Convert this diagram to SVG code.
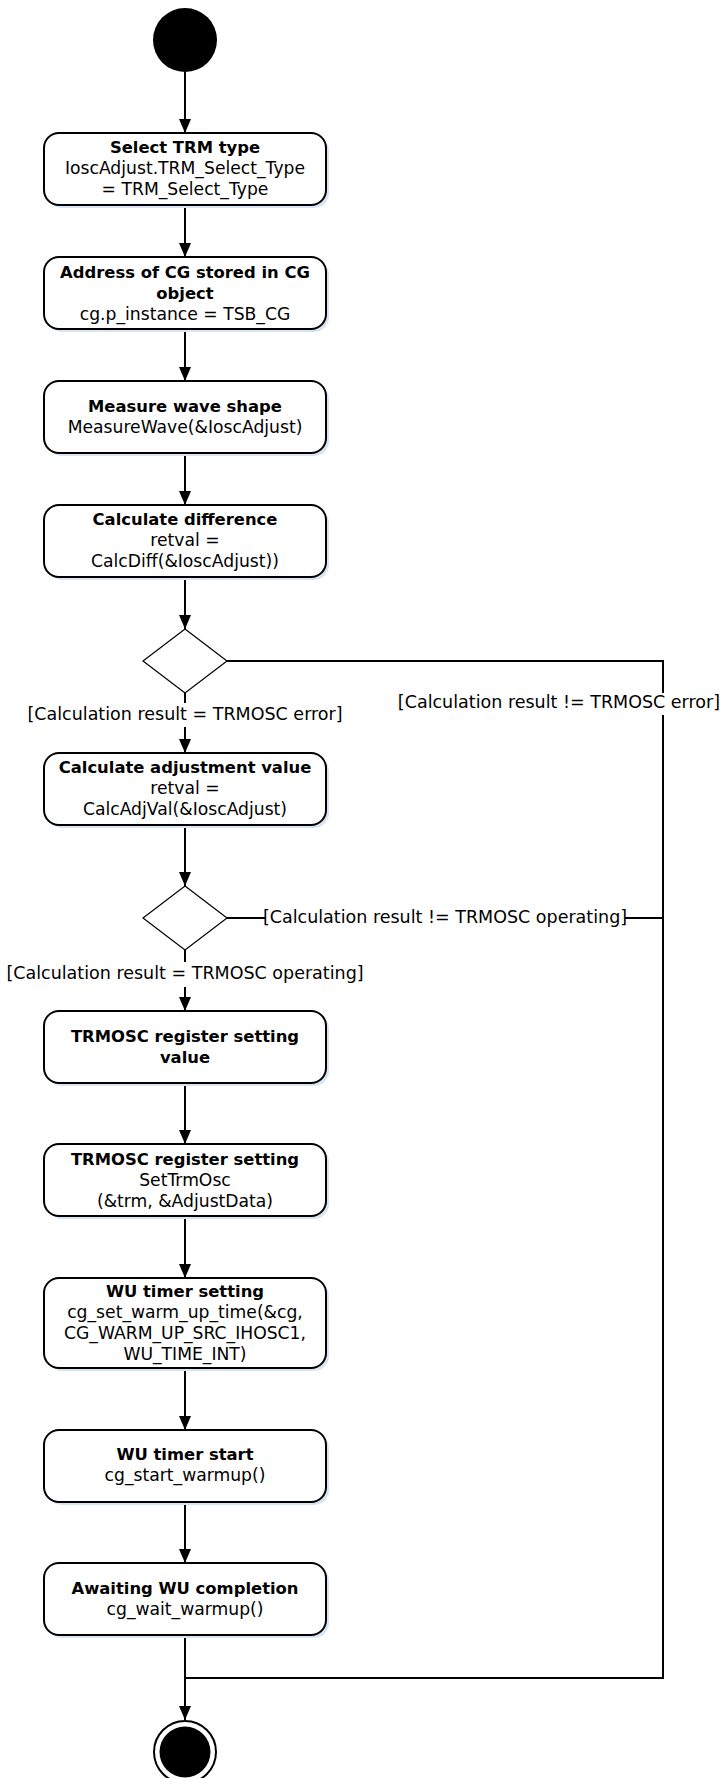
<svg xmlns="http://www.w3.org/2000/svg" width="721" height="1778" viewBox="0 0 721 1778">
<defs>
<marker id="arr" markerUnits="userSpaceOnUse" markerWidth="14" markerHeight="12" refX="14" refY="6" orient="auto">
<path d="M0,0 L14,6 L0,12 Z" fill="#000"/>
</marker>
<style>
.box{fill:#fff;stroke:#000;stroke-width:2}
.sh{fill:#d6e4f4;stroke:none}
.dia{fill:#fff;stroke:#000;stroke-width:1.2}
.ln{fill:none;stroke:#000;stroke-width:2}
.b{font-family:"DejaVu Sans",Verdana,sans-serif;font-weight:bold;font-size:16.4px;text-anchor:middle;fill:#000}
.n{font-family:"DejaVu Sans",Verdana,sans-serif;font-size:17.2px;text-anchor:middle;fill:#000}
.lbl{font-family:"DejaVu Sans",Verdana,sans-serif;font-size:17.5px;fill:#000}
.bg{fill:#fff}
</style>
</defs>
<rect width="721" height="1778" fill="#fff"/>

<g id="connectors">
<line class="ln" x1="185" y1="72" x2="185" y2="133" marker-end="url(#arr)"/>
<line class="ln" x1="185" y1="205" x2="185" y2="257" marker-end="url(#arr)"/>
<line class="ln" x1="185" y1="329" x2="185" y2="381" marker-end="url(#arr)"/>
<line class="ln" x1="185" y1="453" x2="185" y2="505" marker-end="url(#arr)"/>
<line class="ln" x1="185" y1="577" x2="185" y2="629" marker-end="url(#arr)"/>
<line class="ln" x1="185" y1="693" x2="185" y2="753" marker-end="url(#arr)"/>
<polyline class="ln" points="227,661 663,661 663,1678 185,1678"/>
<line class="ln" x1="185" y1="826" x2="185" y2="886" marker-end="url(#arr)"/>
<line class="ln" x1="227" y1="918" x2="663" y2="918"/>
<line class="ln" x1="185" y1="950" x2="185" y2="1011" marker-end="url(#arr)"/>
<line class="ln" x1="185" y1="1083" x2="185" y2="1144" marker-end="url(#arr)"/>
<line class="ln" x1="185" y1="1217" x2="185" y2="1278" marker-end="url(#arr)"/>
<line class="ln" x1="185" y1="1368" x2="185" y2="1430" marker-end="url(#arr)"/>
<line class="ln" x1="185" y1="1502" x2="185" y2="1563" marker-end="url(#arr)"/>
<line class="ln" x1="185" y1="1636" x2="185" y2="1720" marker-end="url(#arr)"/>
<rect class="bg" x="26" y="703" width="318" height="24"/>
<text class="lbl" x="185" y="720" text-anchor="middle">[Calculation result = TRMOSC error]</text>
<rect class="bg" x="400" y="693" width="321" height="22"/>
<text class="lbl" x="720" y="708" text-anchor="end">[Calculation result != TRMOSC error]</text>
<rect class="bg" x="265" y="906" width="360" height="24"/>
<text class="lbl" x="445" y="923" text-anchor="middle">[Calculation result != TRMOSC operating]</text>
<rect class="bg" x="6" y="962" width="357" height="25"/>
<text class="lbl" x="185" y="979" text-anchor="middle">[Calculation result = TRMOSC operating]</text>
</g>

<g id="start"><circle cx="185" cy="40" r="32" fill="#000"/></g>

<g id="n1">
<rect class="sh" x="47" y="136" width="282" height="72" rx="15"/>
<rect class="box" x="44" y="133" width="282" height="72" rx="15"/>
<text class="b" x="185" y="153">Select TRM type</text>
<text class="n" x="185" y="174">IoscAdjust.TRM_Select_Type</text>
<text class="n" x="185" y="195">= TRM_Select_Type</text>
</g>

<g id="n2">
<rect class="sh" x="47" y="260" width="282" height="72" rx="15"/>
<rect class="box" x="44" y="257" width="282" height="72" rx="15"/>
<text class="b" x="185" y="278">Address of CG stored in CG</text>
<text class="b" x="185" y="299">object</text>
<text class="n" x="185" y="320">cg.p_instance = TSB_CG</text>
</g>

<g id="n3">
<rect class="sh" x="47" y="384" width="282" height="72" rx="15"/>
<rect class="box" x="44" y="381" width="282" height="72" rx="15"/>
<text class="b" x="185" y="412">Measure wave shape</text>
<text class="n" x="185" y="433">MeasureWave(&amp;IoscAdjust)</text>
</g>

<g id="n4">
<rect class="sh" x="47" y="508" width="282" height="72" rx="15"/>
<rect class="box" x="44" y="505" width="282" height="72" rx="15"/>
<text class="b" x="185" y="525">Calculate difference</text>
<text class="n" x="185" y="546">retval =</text>
<text class="n" x="185" y="567">CalcDiff(&amp;IoscAdjust))</text>
</g>

<g id="d1"><polygon class="dia" points="185,629 227,661 185,693 143,661"/></g>

<g id="n5">
<rect class="sh" x="47" y="756" width="282" height="72" rx="15"/>
<rect class="box" x="44" y="753" width="282" height="72" rx="15"/>
<text class="b" x="185" y="773">Calculate adjustment value</text>
<text class="n" x="185" y="794">retval =</text>
<text class="n" x="185" y="815">CalcAdjVal(&amp;IoscAdjust)</text>
</g>

<g id="d2"><polygon class="dia" points="185,886 227,918 185,950 143,918"/></g>

<g id="n6">
<rect class="sh" x="47" y="1014" width="282" height="72" rx="15"/>
<rect class="box" x="44" y="1011" width="282" height="72" rx="15"/>
<text class="b" x="185" y="1042">TRMOSC register setting</text>
<text class="b" x="185" y="1063">value</text>
</g>

<g id="n7">
<rect class="sh" x="47" y="1147" width="282" height="72" rx="15"/>
<rect class="box" x="44" y="1144" width="282" height="72" rx="15"/>
<text class="b" x="185" y="1165">TRMOSC register setting</text>
<text class="n" x="185" y="1186">SetTrmOsc</text>
<text class="n" x="185" y="1207">(&amp;trm, &amp;AdjustData)</text>
</g>

<g id="n8">
<rect class="sh" x="47" y="1281" width="282" height="90" rx="15"/>
<rect class="box" x="44" y="1278" width="282" height="90" rx="15"/>
<text class="b" x="185" y="1297">WU timer setting</text>
<text class="n" x="185" y="1318">cg_set_warm_up_time(&amp;cg,</text>
<text class="n" x="185" y="1339">CG_WARM_UP_SRC_IHOSC1,</text>
<text class="n" x="185" y="1360">WU_TIME_INT)</text>
</g>

<g id="n9">
<rect class="sh" x="47" y="1433" width="282" height="72" rx="15"/>
<rect class="box" x="44" y="1430" width="282" height="72" rx="15"/>
<text class="b" x="185" y="1460">WU timer start</text>
<text class="n" x="185" y="1481">cg_start_warmup()</text>
</g>

<g id="n10">
<rect class="sh" x="47" y="1566" width="282" height="72" rx="15"/>
<rect class="box" x="44" y="1563" width="282" height="72" rx="15"/>
<text class="b" x="185" y="1594">Awaiting WU completion</text>
<text class="n" x="185" y="1615">cg_wait_warmup()</text>
</g>

<g id="end">
<circle cx="185" cy="1752" r="31" fill="#fff" stroke="#000" stroke-width="2"/>
<circle cx="185" cy="1752" r="25.5" fill="#000"/>
</g>
</svg>
